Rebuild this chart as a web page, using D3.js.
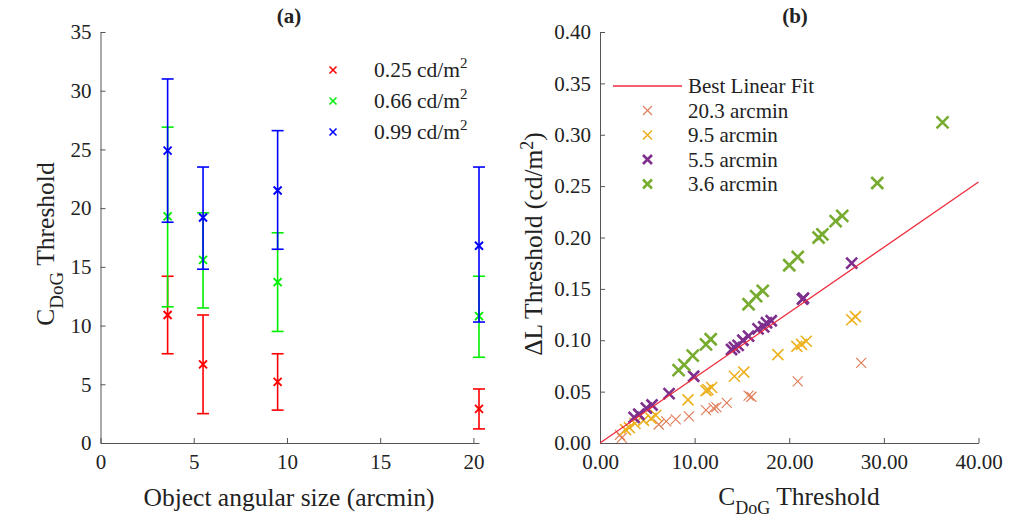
<!DOCTYPE html>
<html><head><meta charset="utf-8">
<script src="https://cdn.jsdelivr.net/npm/d3@7"></script>
<style>
body{margin:0;background:#fff;}
svg text{font-family:"Liberation Serif","Times New Roman",serif;fill:#222;}
</style></head>
<body><svg id="c" width="1035" height="517"></svg>
<script>
// ---------- Panel (a) data ----------
const sizesA = [3.6, 5.5, 9.5, 20.3];
const lumLabels = ["0.25", "0.66", "0.99"];
const lumColors = ["#ff0000", "#00ee00", "#0000ff"];
const mean025 = [10.9, 6.7, 5.2, 2.9];
const low025  = [7.6, 2.5, 2.8, 1.2];
const up025   = [14.2, 10.9, 7.6, 4.6];
const mean066 = [19.3, 15.6, 13.7, 10.8];
const low066  = [11.6, 11.5, 9.5, 7.3];
const up066   = [26.9, 19.6, 17.9, 14.2];
const mean099 = [24.9, 19.2, 21.5, 16.8];
const low099  = [18.8, 14.8, 16.5, 10.3];
const up099   = [31.0, 23.5, 26.6, 23.5];
const yTicksA = [0,5,10,15,20,25,30,35];
const xTicksA = [0,5,10,15,20];

// ---------- Panel (b) data ----------
const arcLabels = ["20.3 arcmin", "9.5 arcmin", "5.5 arcmin", "3.6 arcmin"];
const arcColors = ["#e07a55", "#edb120", "#7e2f8e", "#77ac30"];
const c203 = [27.6, 20.9, 16.0, 15.7, 13.4, 12.3, 12.0, 11.2, 9.4, 8.0, 7.0, 6.2, 2.1, 2.3];
const d203 = [0.078, 0.060, 0.045, 0.046, 0.039, 0.035, 0.034, 0.032, 0.026, 0.023, 0.021, 0.018, 0.008, 0.005];
const c95 = [27.0, 26.6, 21.8, 21.3, 20.8, 18.8, 15.2, 14.2, 11.8, 11.4, 11.2, 9.3, 5.9, 5.4, 4.6, 3.7, 3.1, 2.7];
const d95 = [0.123, 0.120, 0.099, 0.096, 0.094, 0.086, 0.069, 0.065, 0.054, 0.052, 0.051, 0.042, 0.027, 0.024, 0.022, 0.019, 0.015, 0.013];
const c55 = [26.6, 21.5, 21.4, 18.1, 17.6, 17.3, 16.7, 15.7, 15.1, 14.6, 14.2, 13.9, 9.9, 7.3, 5.5, 4.9, 4.1, 3.6];
const d55 = [0.175, 0.141, 0.140, 0.119, 0.117, 0.113, 0.111, 0.104, 0.100, 0.095, 0.093, 0.091, 0.065, 0.048, 0.037, 0.034, 0.028, 0.025];
const c36 = [36.2, 29.3, 25.6, 24.9, 23.5, 23.1, 20.9, 20.0, 17.2, 16.5, 15.7, 11.7, 11.2, 9.8, 8.9, 8.3];
const d36 = [0.312, 0.253, 0.221, 0.216, 0.203, 0.200, 0.181, 0.173, 0.148, 0.143, 0.135, 0.101, 0.096, 0.085, 0.076, 0.071];
const fitX = [0, 40];
const fitY = [0, 0.254];
const yTicksB = [0,0.05,0.10,0.15,0.20,0.25,0.30,0.35,0.40];
const xTicksB = [0,10,20,30,40];

const svg = d3.select("#c");
const axisCol = "#555";

function styleAxis(g){
  g.select(".domain").attr("stroke", axisCol).attr("stroke-width", 1);
  g.selectAll(".tick line").attr("stroke", axisCol);
  g.selectAll(".tick text").attr("font-size", 21).attr("fill","#222")
    .attr("font-family","Liberation Serif, serif");
}
function cross(g, x, y, r, color, w){
  g.append("path").attr("d", `M${x-r},${y-r}L${x+r},${y+r}M${x-r},${y+r}L${x+r},${y-r}`)
    .attr("stroke", color).attr("stroke-width", w).attr("fill","none");
}

// ================= Panel (a) =================
const xA = d3.scaleLinear().domain([0, 20.3]).range([100.5, 479]);
const yA = d3.scaleLinear().domain([0, 35]).range([443, 32]);

svg.append("g").attr("transform","translate(0,443)")
  .call(d3.axisBottom(xA).tickValues(xTicksA).tickFormat(d3.format("d")).tickSizeInner(-5).tickSizeOuter(0).tickPadding(11))
  .call(styleAxis);
svg.append("g").attr("transform","translate(100.5,0)")
  .call(d3.axisLeft(yA).tickValues(yTicksA).tickFormat(d3.format("d")).tickSizeInner(-5).tickSizeOuter(0).tickPadding(9))
  .call(styleAxis);

const seriesA = [[mean025, low025, up025],[mean066, low066, up066],[mean099, low099, up099]];
const gA = svg.append("g");
seriesA.forEach((s, si) => {
  const col = lumColors[si];
  sizesA.forEach((sz, i) => {
    const x = xA(sz);
    gA.append("line").attr("x1",x).attr("x2",x).attr("y1",yA(s[1][i])).attr("y2",yA(s[2][i]))
      .attr("stroke",col).attr("stroke-width",1.6);
    [s[1][i], s[2][i]].forEach(v => {
      gA.append("line").attr("x1",x-6).attr("x2",x+6).attr("y1",yA(v)).attr("y2",yA(v))
        .attr("stroke",col).attr("stroke-width",1.6);
    });
    cross(gA, x, yA(s[0][i]), 4, col, 1.9);
  });
});

// legend (a)
lumLabels.forEach((lab, i) => {
  const y = 70 + i*31;
  cross(svg, 333, y, 3.5, lumColors[i], 1.5);
  const t = svg.append("text").attr("x", 374).attr("y", y+7).attr("font-size", 21.5);
  t.append("tspan").text(lab + " cd/m");
  t.append("tspan").attr("dy", -9).attr("font-size", 15).text("2");
});

svg.append("text").attr("x", 289).attr("y", 23).attr("text-anchor","middle")
  .attr("font-size", 21).attr("font-weight","bold").text("(a)");
svg.append("text").attr("x", 289).attr("y", 506).attr("text-anchor","middle")
  .attr("font-size", 25.5).text("Object angular size (arcmin)");
{
  const t = svg.append("text").attr("transform","translate(54,244) rotate(-90)")
    .attr("text-anchor","middle").attr("font-size", 25.5);
  t.append("tspan").text("C");
  t.append("tspan").attr("dy", 9).attr("font-size", 19).text("DoG");
  t.append("tspan").attr("dy", -9).text(" Threshold");
}

// ================= Panel (b) =================
const xB = d3.scaleLinear().domain([0, 40]).range([600, 978.5]);
const yB = d3.scaleLinear().domain([0, 0.4]).range([443, 32]);

svg.append("g").attr("transform","translate(0,443)")
  .call(d3.axisBottom(xB).tickValues(xTicksB).tickFormat(d3.format(".2f")).tickSizeInner(-5).tickSizeOuter(0).tickPadding(11))
  .call(styleAxis);
svg.append("g").attr("transform","translate(600,0)")
  .call(d3.axisLeft(yB).tickValues(yTicksB).tickFormat(d3.format(".2f")).tickSizeInner(-5).tickSizeOuter(0).tickPadding(9))
  .call(styleAxis);

const gB = svg.append("g");
const seriesB = [[c203,d203,1.1,5],[c95,d95,1.6,5.5],[c55,d55,2.6,5.5],[c36,d36,2.6,6]];
seriesB.forEach((s, si) => {
  s[0].forEach((cx, i) => cross(gB, xB(cx), yB(s[1][i]), s[3], arcColors[si], s[2]));
});
gB.append("line").attr("x1", xB(fitX[0])).attr("y1", yB(fitY[0])).attr("x2", xB(fitX[1])).attr("y2", yB(fitY[1]))
  .attr("stroke","#ee2a3c").attr("stroke-width",1.3);

// legend (b)
svg.append("line").attr("x1",613).attr("x2",682).attr("y1",86).attr("y2",86).attr("stroke","#ee2a3c").attr("stroke-width",1.3);
svg.append("text").attr("x",688).attr("y",93).attr("font-size",21).text("Best Linear Fit");
const legW = [1.1,1.6,2.6,2.6];
arcLabels.forEach((lab, i) => {
  const y = 110.5 + i*24.5;
  cross(svg, 647.5, y, 4.5, arcColors[i], legW[i]);
  svg.append("text").attr("x",688).attr("y",y+7).attr("font-size",21).text(lab);
});

svg.append("text").attr("x", 795).attr("y", 23).attr("text-anchor","middle")
  .attr("font-size", 21).attr("font-weight","bold").text("(b)");
{
  const t = svg.append("text").attr("x", 799).attr("y", 505).attr("text-anchor","middle").attr("font-size", 25.5);
  t.append("tspan").text("C");
  t.append("tspan").attr("dy", 9).attr("font-size", 18).text("DoG");
  t.append("tspan").attr("dy", -9).text(" Threshold");
}
{
  const t = svg.append("text").attr("transform","translate(542,244) rotate(-90)")
    .attr("text-anchor","middle").attr("font-size", 25.5);
  t.append("tspan").text("\u0394L Threshold (cd/m");
  t.append("tspan").attr("dy", -9).attr("font-size", 18).text("2");
  t.append("tspan").attr("dy", 9).text(")");
}
</script></body></html>
